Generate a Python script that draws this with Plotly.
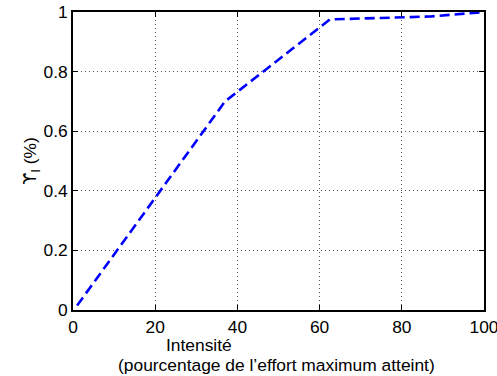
import plotly.graph_objects as go

intensite = [1, 37, 62.5, 87, 100]
upsilon = [0.015, 0.70, 0.975, 0.985, 1.0]
x_ticks = [0, 20, 40, 60, 80, 100]
y_ticks = [0, 0.2, 0.4, 0.6, 0.8, 1]
y_tick_labels = ["0", "0.2", "0.4", "0.6", "0.8", "1"]

FONT = "Liberation Sans, Arial, sans-serif"
FS = 17.4

fig = go.Figure()
fig.add_trace(go.Scatter(
    x=intensite, y=upsilon, mode="lines",
    line=dict(color="rgb(0,0,255)", width=2.6, dash="10px,5px"),
    showlegend=False, hoverinfo="skip"))

axis_common = dict(
    showline=True, linecolor="black", linewidth=1.5, mirror="ticks",
    ticks="inside", ticklen=5, tickcolor="black", tickwidth=1,
    showgrid=True, gridcolor="#555", griddash="1px,3px", gridwidth=1,
    zeroline=False, tickfont=dict(family=FONT, size=FS, color="black"),
    automargin=False, ticklabeloverflow="allow",
)

fig.update_xaxes(range=[0, 100], tickvals=x_ticks, **axis_common)
fig.update_yaxes(range=[0, 1], tickvals=y_ticks, ticktext=y_tick_labels,
                 title=dict(text="<span style='font-family:DejaVu Sans'>ϒ</span><sub>I</sub> (%)",
                            font=dict(family=FONT, size=FS, color="black"), standoff=2),
                 **axis_common)

fig.add_annotation(text="Intensité", xref="paper", yref="paper", x=0.3066, y=0,
                   yshift=-35, xanchor="center", yanchor="middle", showarrow=False,
                   font=dict(family=FONT, size=FS, color="black"))
fig.add_annotation(text="(pourcentage de l’effort maximum atteint)", xref="paper", yref="paper",
                   x=0.494, y=0, yshift=-55, xanchor="center", yanchor="middle", showarrow=False,
                   font=dict(family=FONT, size=FS, color="black"))

fig.update_layout(
    width=497, height=376,
    margin=dict(l=73, r=13, t=12, b=66, autoexpand=False),
    plot_bgcolor="white", paper_bgcolor="white",
    font=dict(family=FONT, size=FS, color="black"),
)
fig.write_html("out.html", config={"displayModeBar": False},
               post_script="document.body.style.margin='0';")
